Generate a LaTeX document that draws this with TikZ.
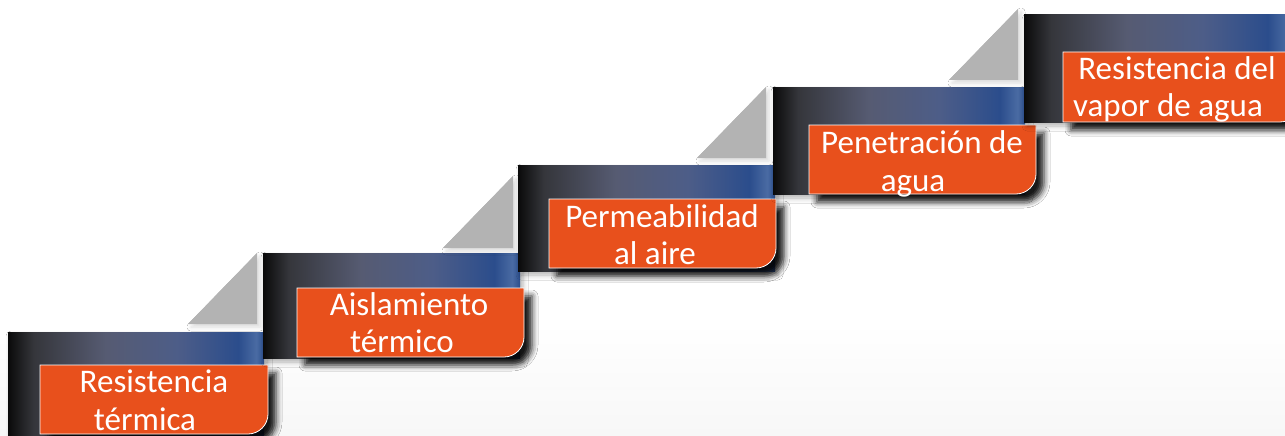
\documentclass[tikz,border=0pt]{standalone}
\usepackage{fontspec}
\setmainfont{Carlito}
\usetikzlibrary{shadows.blur}
\definecolor{orng}{HTML}{E8501C}
\definecolor{bk}{HTML}{0A0A0A}
\definecolor{b1}{HTML}{35363B}
\definecolor{b2}{HTML}{565B72}
\definecolor{b3}{HTML}{4D5D88}
\definecolor{b4}{HTML}{2B4D8C}
\definecolor{b5}{HTML}{4A6BA3}
\definecolor{trig}{HTML}{B3B3B3}
\definecolor{bgg}{HTML}{F7F7F7}
\pgfdeclarehorizontalshading{barshade}{100bp}{color(0bp)=(bk); color(25bp)=(bk); color(30bp)=(b1); color(44bp)=(b2); color(58bp)=(b3); color(70bp)=(b4); color(73.5bp)=(b5); color(75bp)=(b4); color(100bp)=(b4)}
\pgfdeclareverticalshading{bgshade}{100bp}{color(0bp)=(bgg); color(25bp)=(bgg); color(38bp)=(white); color(100bp)=(white)}
\tikzset{
  barbox/.style={shading=barshade, blur shadow={shadow xshift=3pt, shadow yshift=-4pt, shadow blur radius=5pt, shadow opacity=30}},
  tribox/.style={fill=trig, blur shadow={shadow xshift=3pt, shadow yshift=-3pt, shadow blur radius=4pt, shadow opacity=15}},
  orbox/.style={fill=orng, draw=white, line width=0.8pt, blur shadow={shadow xshift=8pt, shadow yshift=-8pt, shadow blur radius=6pt, shadow opacity=90}},
  lbl/.style={text=white, inner sep=0pt, anchor=base, font=\fontsize{33}{39}\selectfont}
}
\newcommand\obox[4]{%
  \path[orbox] (#1,#2) -- (#3,#2) -- (#3,#4-20) .. controls (#3,#4-9) and (#3-9,#4) .. (#3-20,#4) -- (#1,#4) -- cycle;}
\begin{document}
\begin{tikzpicture}[x=1pt,y=-1pt]
\path[shading=bgshade] (0,0) rectangle (1285,436);
\useasboundingbox (0,0) rectangle (1285,436);
% step 1
\path[barbox] (8,332) rectangle (264,445);
\path[tribox] (257,253) -- (257,324) -- (188,324) -- cycle;
\obox{40}{365}{268}{434}
\node[lbl] (t1a) at (154,392) {Resistencia};
\node[lbl] (t1b) at (145,430) {térmica};
% step 2
\path[barbox] (263,253) rectangle (520,358);
\path[tribox] (513,176) -- (513,248) -- (443,248) -- cycle;
\obox{297}{288}{524}{357}
\node[lbl] (t2a) at (409,315) {Aislamiento};
\node[lbl] (t2b) at (402,352) {térmico};
% step 3
\path[barbox] (518,165) rectangle (775,271);
\path[tribox] (766,87) -- (766,158) -- (697,158) -- cycle;
\obox{549}{199}{776}{268}
\node[lbl] (t3a) at (662,227) {Permeabilidad};
\node[lbl] (t3b) at (655,264) {al aire};
% step 4
\path[barbox] (773,87) rectangle (1025,194);
\path[tribox] (1018,9) -- (1018,80) -- (949,80) -- cycle;
\obox{809}{125}{1036}{194}
\node[lbl] (t4a) at (922,153) {Penetración de};
\node[lbl] (t4b) at (913,191) {agua};
% step 5
\path[barbox] (1024,15) rectangle (1295,122);
\obox{1063}{52}{1300}{122}
\node[lbl] (t5a) at (1177,80) {Resistencia del};
\node[lbl] (t5b) at (1168,116) {vapor de agua};
\end{tikzpicture}
\end{document}
